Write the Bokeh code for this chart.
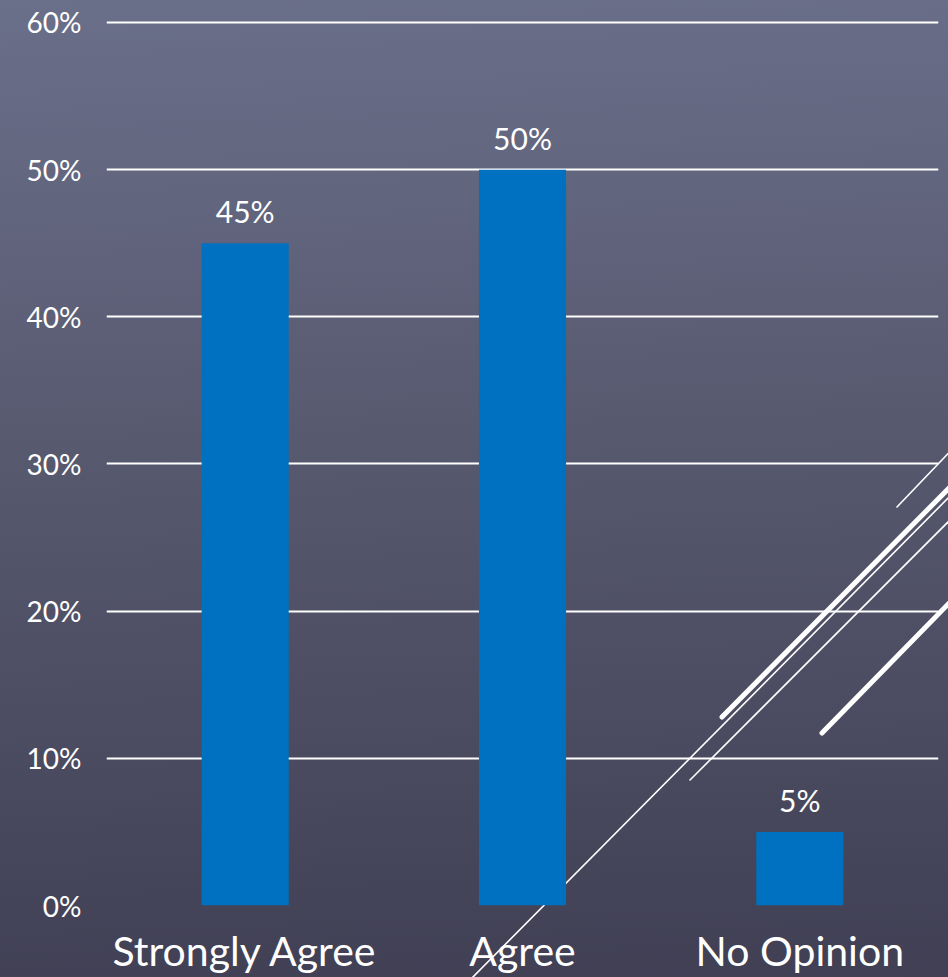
from urllib.parse import quote
from bokeh.plotting import figure
from bokeh.models import Range1d, FixedTicker, NumeralTickFormatter, ColumnDataSource
from bokeh.core.properties import value
from bokeh.embed import file_html
from bokeh.resources import INLINE

# ---- data ----
categories = ["Strongly Agree", "Agree", "No Opinion"]
shares = [0.45, 0.50, 0.05]
share_labels = ["45%", "50%", "5%"]
y_ticks = [0.0, 0.1, 0.2, 0.3, 0.4, 0.5, 0.6]

# decorative theme strokes of the slide background (page pixels): x0, y0, x1, y1, width
deco_x0 = [897, 722, 465, 690, 822]
deco_y0 = [507, 717, 985, 780, 733]
deco_x1 = [962, 962, 962, 962, 962]
deco_y1 = [439, 475, 484, 508, 590]
deco_w = [1.6, 5, 1.6, 1.6, 5]

FONT = "Lato"
W, H = 948, 977
FL, FR, FT, FB = 106, 938, 20, 906
YMAX = 0.6
y_end = YMAX * (FB - FT) / (FB - 22)

pos = list(range(len(categories)))

p = figure(x_range=Range1d(-0.5, len(categories) - 0.5), y_range=Range1d(0, y_end),
           width=W, height=H, output_backend="svg", toolbar_location=None,
           min_border_left=FL, min_border_right=W - FR,
           min_border_top=FT, min_border_bottom=H - FB)

strokes = "".join(
    f'<line x1="{a}" y1="{b}" x2="{c}" y2="{d}" stroke="white" stroke-width="{w}" stroke-linecap="round"/>'
    for a, b, c, d, w in zip(deco_x0, deco_y0, deco_x1, deco_y1, deco_w))
deco_svg = f'<svg xmlns="http://www.w3.org/2000/svg" width="{W}" height="{H}">{strokes}</svg>'
p.styles = {"background": f'url("data:image/svg+xml,{quote(deco_svg)}") no-repeat 0 0, '
                          "linear-gradient(178deg, #6a6f8a 0%, #57596f 45%, #403f54 100%)"}
p.background_fill_alpha = 0
p.border_fill_alpha = 0
p.outline_line_color = None

src = ColumnDataSource(dict(x=pos, val=shares, lab=share_labels))
p.vbar(x="x", top="val", width=0.314, source=src, color="#0070C0", line_color=None)
p.text(x="x", y="val", text="lab", source=src, text_color="white",
       text_font=value(FONT), text_font_size="30px", text_align="center",
       text_baseline="alphabetic", y_offset=-32)

p.xaxis.ticker = FixedTicker(ticks=pos)
p.xaxis.major_label_overrides = {i: c for i, c in zip(pos, categories)}
p.yaxis.ticker = FixedTicker(ticks=y_ticks)
p.yaxis.formatter = NumeralTickFormatter(format="0%")
p.ygrid.ticker = FixedTicker(ticks=y_ticks)
p.ygrid.grid_line_color = "white"
p.ygrid.grid_line_width = 2
p.xgrid.grid_line_color = None

for ax in (p.xaxis, p.yaxis):
    ax.axis_line_color = None
    ax.major_tick_line_color = None
    ax.minor_tick_line_color = None
    ax.major_label_text_color = "white"
    ax.major_label_text_font = FONT

p.yaxis.major_label_text_font_size = "28px"
p.yaxis.major_label_standoff = 19
p.xaxis.major_label_text_font_size = "41px"
p.xaxis.major_label_standoff = 14

open("out.html", "w").write(file_html(p, INLINE))
